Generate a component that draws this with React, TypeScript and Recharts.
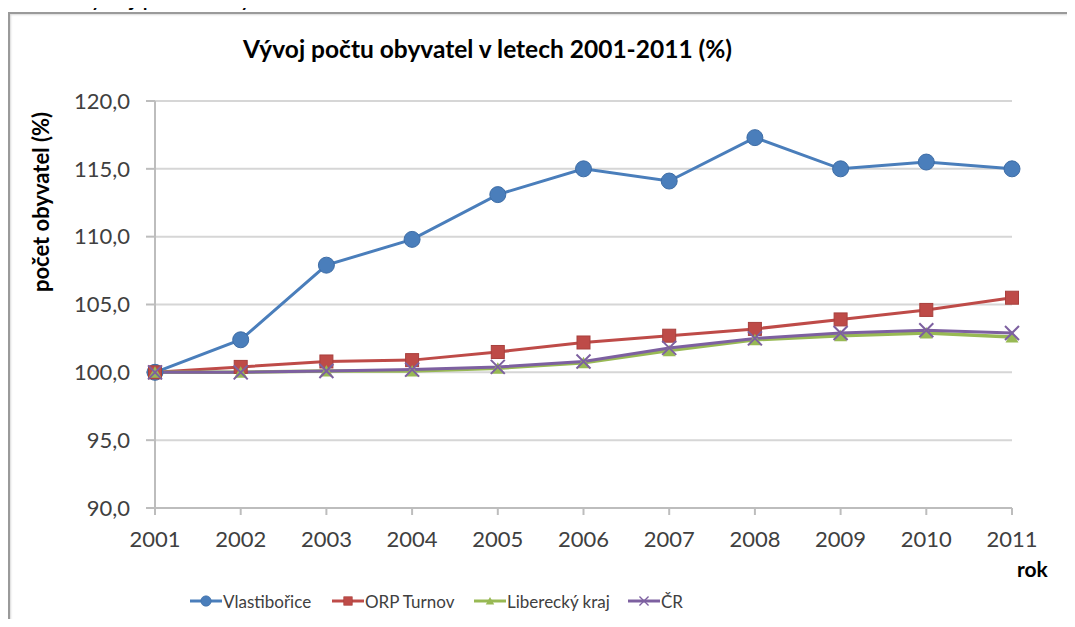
import React from "react"
import { LineChart, Line, XAxis, YAxis, CartesianGrid } from "recharts"

const years = ["2001", "2002", "2003", "2004", "2005", "2006", "2007", "2008", "2009", "2010", "2011"]
const vlastiborice = [100, 102.4, 107.9, 109.8, 113.1, 115.0, 114.1, 117.3, 115.0, 115.5, 115.0]
const orpTurnov = [100, 100.4, 100.8, 100.9, 101.5, 102.2, 102.7, 103.2, 103.9, 104.6, 105.5]
const liberecky = [100, 100.0, 100.1, 100.1, 100.3, 100.7, 101.6, 102.4, 102.7, 102.9, 102.6]
const cr = [100, 100.0, 100.1, 100.2, 100.4, 100.8, 101.8, 102.5, 102.9, 103.1, 102.9]
const yTicks = [90, 95, 100, 105, 110, 115, 120]

const data = years.map((year, i) => ({
  year,
  vlastiborice: vlastiborice[i],
  orpTurnov: orpTurnov[i],
  liberecky: liberecky[i],
  cr: cr[i],
}))

const FONT = "Lato, 'Liberation Sans', sans-serif"
const BLUE = "#4A7EBB"
const RED = "#BE4B48"
const GREEN = "#98B954"
const PURPLE = "#7D60A0"

type DotProps = { cx?: number; cy?: number; index?: number }

const CircleDot = ({ cx = 0, cy = 0, index }: DotProps) => (
  <circle key={"c" + index} cx={cx} cy={cy} r={8} fill={BLUE} stroke="#3E6DA6" strokeWidth={1} />
)

const SquareDot = ({ cx = 0, cy = 0, index }: DotProps) => (
  <rect key={"s" + index} x={cx - 6.5} y={cy - 6.5} width={13} height={13} fill={RED} stroke="#A8403D" strokeWidth={1} />
)

const TriangleDot = ({ cx = 0, cy = 0, index }: DotProps) => (
  <polygon
    key={"t" + index}
    points={`${cx},${cy - 6} ${cx + 6.5},${cy + 5.5} ${cx - 6.5},${cy + 5.5}`}
    fill={GREEN}
  />
)

const CrossDot = ({ cx = 0, cy = 0, index }: DotProps) => (
  <g key={"x" + index} stroke={PURPLE} strokeWidth={2}>
    <line x1={cx - 7} y1={cy - 7} x2={cx + 7} y2={cy + 7} />
    <line x1={cx - 7} y1={cy + 7} x2={cx + 7} y2={cy - 7} />
  </g>
)

const legendItems = [
  { name: "Vlastibořice", color: BLUE, Dot: CircleDot, left: 190 },
  { name: "ORP Turnov", color: RED, Dot: SquareDot, left: 332 },
  { name: "Liberecký kraj", color: GREEN, Dot: TriangleDot, left: 474 },
  { name: "ČR", color: PURPLE, Dot: CrossDot, left: 628 },
]

const LegendBox = () => (
  <>
    {legendItems.map((item) => (
      <div
        key={item.name}
        style={{
          position: "absolute",
          left: item.left,
          top: 590,
          height: 22,
          display: "flex",
          alignItems: "center",
          fontFamily: FONT,
          fontSize: 17,
          color: "#404040",
          whiteSpace: "nowrap",
        }}
      >
        <svg width={32} height={16} style={{ marginRight: 1 }}>
          <line x1={0} y1={8} x2={32} y2={8} stroke={item.color} strokeWidth={3} />
          <g transform="translate(16,8) scale(0.65) translate(-16,-8)">
            <item.Dot cx={16} cy={8} index={0} />
          </g>
        </svg>
        <span>{item.name}</span>
      </div>
    ))}
  </>
)

export default function App() {
  return (
    <div style={{ position: "relative", width: 1075, height: 627, margin: -8, background: "#fff", overflow: "hidden" }}>
      <div style={{ position: "absolute", left: 0, top: -19, fontFamily: FONT, fontSize: 25, color: "#000", whiteSpace: "nowrap" }}>
        Graf 2 Vývoj počtu obyvatel v letech 2001 – 2011
      </div>
      <div
        style={{
          position: "absolute",
          left: 8,
          top: 12,
          width: 1080,
          height: 640,
          borderTop: "2px solid #9a9a9a",
          borderLeft: "2px solid #9a9a9a",
          boxShadow: "inset 1px 1px 2px rgba(0,0,0,0.15)",
        }}
      />
      <div
        style={{
          position: "absolute",
          left: 0,
          width: 975,
          top: 34,
          textAlign: "center",
          fontFamily: FONT,
          fontWeight: 700,
          fontSize: 24.5,
          color: "#000",
        }}
      >
        Vývoj počtu obyvatel v letech 2001-2011 (%)
      </div>
      <div
        style={{
          position: "absolute",
          left: 40,
          top: 202,
          transform: "translate(-50%, -50%) rotate(-90deg)",
          fontFamily: FONT,
          fontWeight: 700,
          fontSize: 22,
          color: "#000",
          whiteSpace: "nowrap",
        }}
      >
        počet obyvatel (%)
      </div>
      <div
        style={{
          position: "absolute",
          left: 1017,
          top: 556,
          fontFamily: FONT,
          fontWeight: 700,
          fontSize: 21,
          color: "#000",
        }}
      >
        rok
      </div>
      <div style={{ position: "absolute", left: 0, top: 0 }}>
        <LineChart width={1075} height={627} data={data} margin={{ top: 101, right: 63, bottom: 0, left: 0 }}>
          <CartesianGrid vertical={false} stroke="#d6d6d6" strokeWidth={2} />
          <XAxis
            dataKey="year"
            height={119}
            stroke="#bdbdbd"
            strokeWidth={2}
            tickSize={7}
            tickMargin={16}
            tick={{ fill: "#404040", fontSize: 22, fontFamily: FONT }}
            interval={0}
          />
          <YAxis
            width={155}
            domain={[90, 120]}
            ticks={yTicks}
            stroke="#bdbdbd"
            strokeWidth={2}
            tickSize={9}
            tickMargin={16}
            tick={{ fill: "#404040", fontSize: 22, fontFamily: FONT }}
            tickFormatter={(v: number) => v.toFixed(1).replace(".", ",")}
            allowDataOverflow
          />
          <Line dataKey="vlastiborice" name="Vlastibořice" stroke={BLUE} strokeWidth={3} dot={CircleDot} isAnimationActive={false} />
          <Line dataKey="orpTurnov" name="ORP Turnov" stroke={RED} strokeWidth={3} dot={SquareDot} isAnimationActive={false} />
          <Line dataKey="liberecky" name="Liberecký kraj" stroke={GREEN} strokeWidth={3.5} dot={TriangleDot} isAnimationActive={false} />
          <Line dataKey="cr" name="ČR" stroke={PURPLE} strokeWidth={3} dot={CrossDot} isAnimationActive={false} />
        </LineChart>
      </div>
      <LegendBox />
    </div>
  )
}
